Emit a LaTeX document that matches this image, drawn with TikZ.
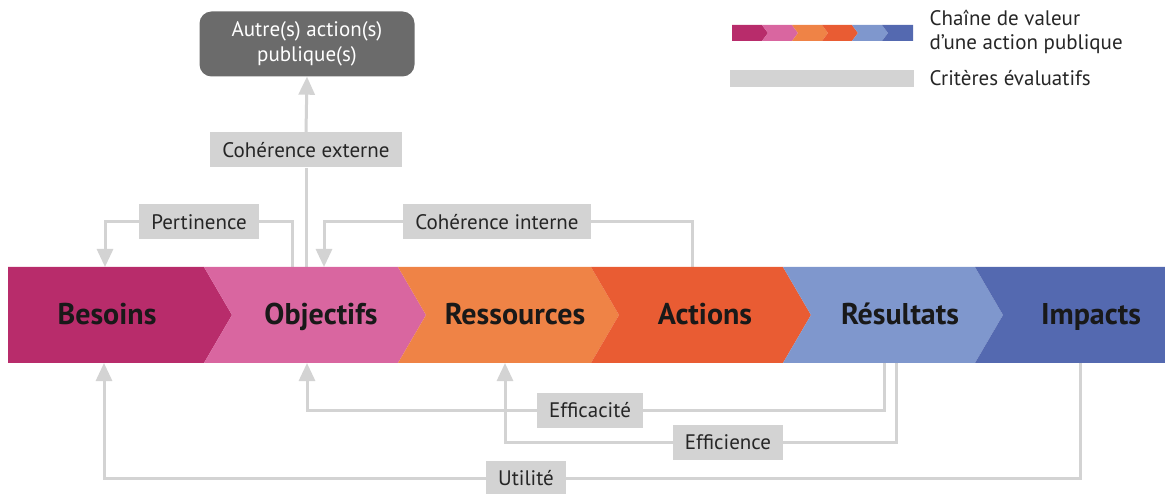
\documentclass[tikz,border=0pt]{standalone}
\usepackage{fontspec}
\setmainfont{PT Sans}
\usetikzlibrary{arrows.meta}

\definecolor{cBes}{HTML}{B82C6B}
\definecolor{cObj}{HTML}{D966A0}
\definecolor{cRes}{HTML}{EF8346}
\definecolor{cAct}{HTML}{E95C33}
\definecolor{cRsl}{HTML}{7F97CD}
\definecolor{cImp}{HTML}{5469B0}
\definecolor{critgray}{HTML}{D3D3D3}
\definecolor{boxgray}{HTML}{6B6B6B}

\tikzset{
  critline/.style={draw=critgray, line width=3pt},
  critarrow/.style={critline, -{Triangle[width=16pt,length=18pt]}},
  critbox/.style={fill=critgray, text=black!85, font=\fontsize{21}{25}\selectfont, inner xsep=12pt, inner ysep=0pt, minimum height=35pt},
  chainlabel/.style={font=\fontsize{30}{36}\selectfont\bfseries, text=black!90, anchor=base},
  legendtext/.style={font=\fontsize{21}{24}\selectfont, text=black!85, align=left, anchor=west},
}

\begin{document}
\begin{tikzpicture}[x=1pt,y=-1pt]
    \useasboundingbox (0,0) rectangle (1165,494);

    \node[fill=boxgray, rounded corners=12pt, text=white, font=\fontsize{21}{25}\selectfont, align=center,
          minimum width=215pt, minimum height=65pt, inner sep=0pt] (autres) at (307,44) {Autre(s) action(s)\\publique(s)};
    \node[critbox] (cohext) at (306,150) {Cohérence externe};
    \node[critbox] (pertinence) at (199,222) {Pertinence};
    \node[critbox] (cohint) at (497,222) {Cohérence interne};
    \node[critbox] (efficacite) at (590,410) {Efficacité};
    \node[critbox] (efficience) at (728,442) {Efficience};
    \node[critbox] (utilite) at (526,478) {Utilité};

    \coordinate (bes-top) at (105,267);
    \coordinate (obj-top-a) at (292,267);
    \coordinate (obj-top-b) at (306,267);
    \coordinate (obj-top-c) at (324,267);
    \coordinate (act-top) at (692,267);
    \coordinate (bes-bot) at (104,363);
    \coordinate (obj-bot) at (307,363);
    \coordinate (res-bot) at (505,363);
    \coordinate (rsl-bot-a) at (884,363);
    \coordinate (rsl-bot-b) at (896,363);
    \coordinate (imp-bot) at (1080,363);

    \draw[critline] (obj-top-b) -- (cohext.south);
    \draw[critarrow] (cohext.north) -- (autres.south);
    \draw[critline] (obj-top-a) |- (pertinence.east);
    \draw[critarrow] (pertinence.west) -| (bes-top);
    \draw[critline] (act-top) |- (cohint.east);
    \draw[critarrow] (cohint.west) -| (obj-top-c);
    \draw[critline] (rsl-bot-a) |- (efficacite.east);
    \draw[critarrow] (efficacite.west) -| (obj-bot);
    \draw[critline] (rsl-bot-b) |- (efficience.east);
    \draw[critarrow] (efficience.west) -| (res-bot);
    \draw[critline] (imp-bot) |- (utilite.east);
    \draw[critarrow] (utilite.west) -| (bes-bot);

    \fill[cBes] (8,267) -- (204,267) -- (232,315) -- (204,363) -- (8,363) -- cycle;
    \fill[cObj] (204,267) -- (398,267) -- (426,315) -- (398,363) -- (204,363) -- (232,315) -- cycle;
    \fill[cRes] (398,267) -- (591,267) -- (619,315) -- (591,363) -- (398,363) -- (426,315) -- cycle;
    \fill[cAct] (591,267) -- (783,267) -- (811,315) -- (783,363) -- (591,363) -- (619,315) -- cycle;
    \fill[cRsl] (783,267) -- (975,267) -- (1003,315) -- (975,363) -- (783,363) -- (811,315) -- cycle;
    \fill[cImp] (975,267) -- (1165,267) -- (1165,363) -- (975,363) -- (1003,315) -- cycle;

    \node[chainlabel] (besoins) at (107,325) {Besoins};
    \node[chainlabel] (objectifs) at (321,325) {Objectifs};
    \node[chainlabel] (ressources) at (515,325) {Ressources};
    \node[chainlabel] (actions) at (705,325) {Actions};
    \node[chainlabel] (resultats) at (900,325) {Résultats};
    \node[chainlabel] (impacts) at (1091,325) {Impacts};

    \fill[cBes] (732,25) -- (762,25) -- (768,33) -- (762,41) -- (732,41) -- cycle;
    \fill[cObj] (762,25) -- (792,25) -- (798,33) -- (792,41) -- (762,41) -- (768,33) -- cycle;
    \fill[cRes] (792,25) -- (822,25) -- (828,33) -- (822,41) -- (792,41) -- (798,33) -- cycle;
    \fill[cAct] (822,25) -- (852,25) -- (858,33) -- (852,41) -- (822,41) -- (828,33) -- cycle;
    \fill[cRsl] (852,25) -- (882,25) -- (888,33) -- (882,41) -- (852,41) -- (858,33) -- cycle;
    \fill[cImp] (882,25) -- (913,25) -- (913,41) -- (882,41) -- (888,33) -- cycle;
    \fill[critgray] (730,70) rectangle (914,87);

    \node[legendtext] (chaine) at (926,32) {Chaîne de valeur\\d’une action publique};
    \node[legendtext] (criteres) at (926,78) {Critères évaluatifs};
\end{tikzpicture}
\end{document}
